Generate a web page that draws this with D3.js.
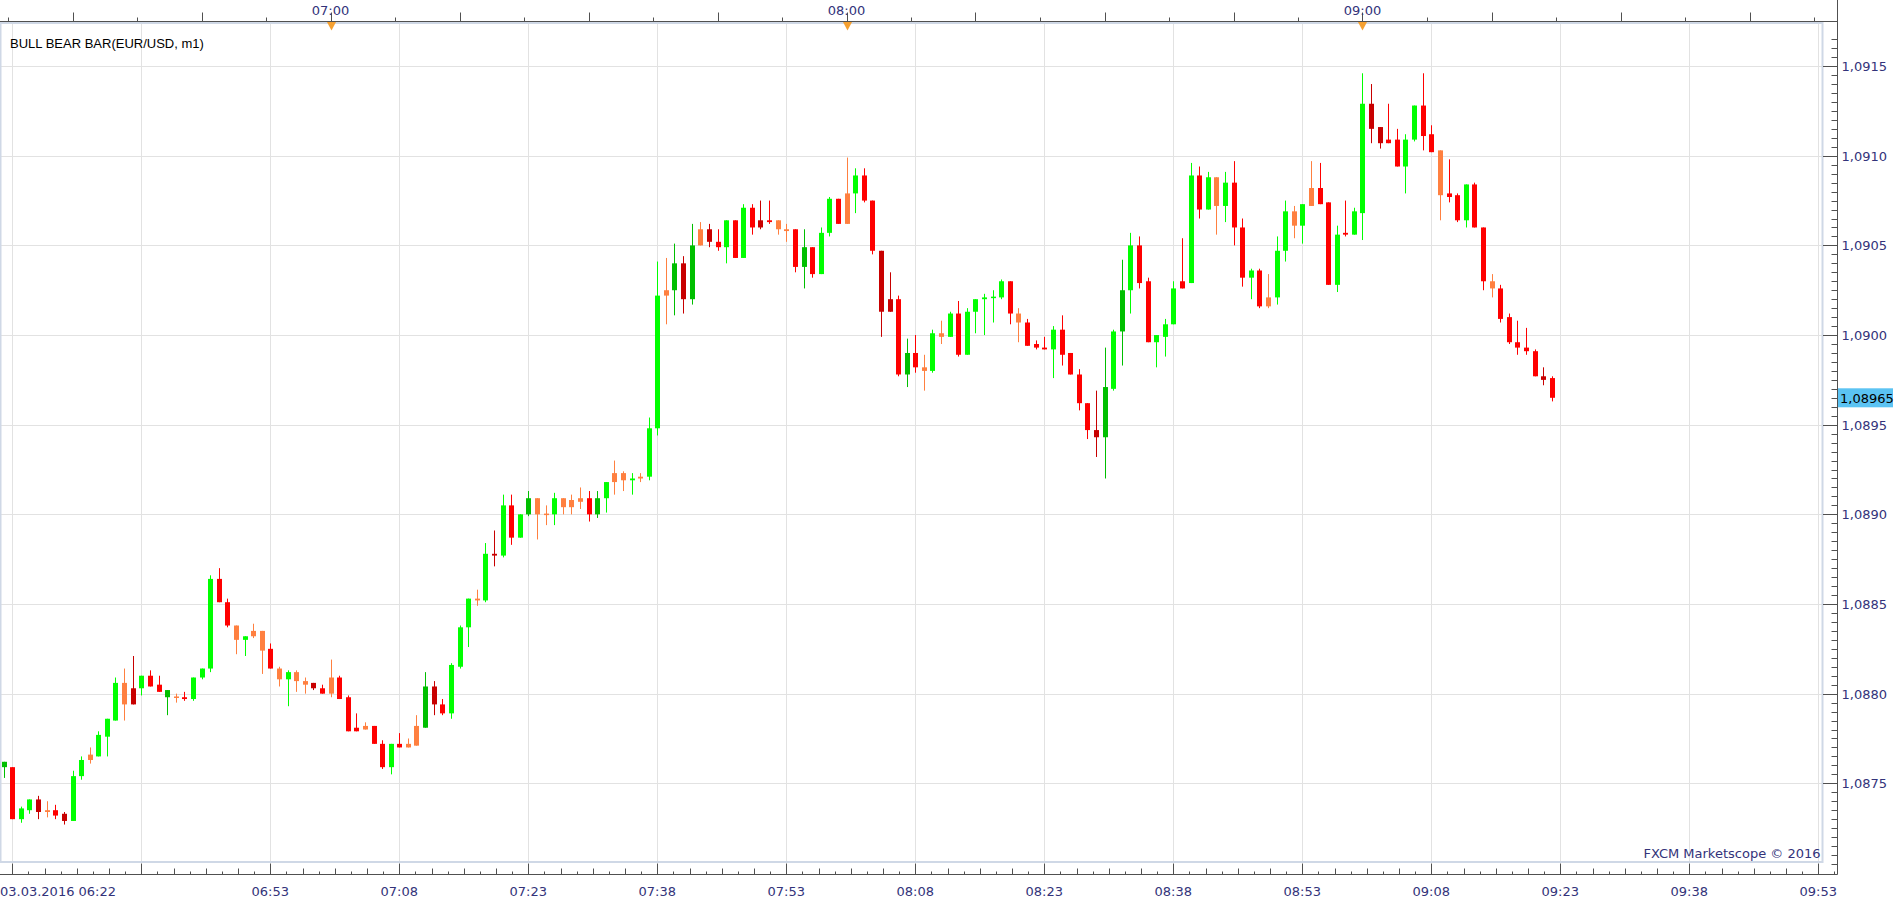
<!DOCTYPE html>
<html><head><meta charset="utf-8">
<script src="https://cdn.jsdelivr.net/npm/d3@7"></script>
<style>
html,body{margin:0;padding:0;background:#fff;overflow:hidden;}
svg{display:block;}
</style></head><body>
<svg id="chart" width="1903" height="905"></svg>
<script>
// ---------- DATA ----------
const chartTitle = "BULL BEAR BAR(EUR/USD, m1)";
const firstLabel = "03.03.2016 06:22";
const firstTime = "06:22";
const lastTime = "09:53";
const watermark = "FXCM Marketscope \u00A9 2016";

const opens = [1.08759,1.08759,1.08730,1.08735,1.08741,1.08734,1.08735,1.08733,1.08729,1.08754,
1.08763,1.08765,1.08776,1.08785,1.08806,1.08803,1.08803,1.08810,1.08805,1.08798,
1.08798,1.08798,1.08797,1.08809,1.08814,1.08864,1.08851,1.08838,1.08830,1.08832,
1.08835,1.08825,1.08814,1.08808,1.08812,1.08807,1.08806,1.08803,1.08800,1.08809,
1.08798,1.08781,1.08780,1.08782,1.08772,1.08759,1.08772,1.08770,1.08771,1.08781,
1.08804,1.08794,1.08789,1.08815,1.08837,1.08852,1.08852,1.08878,1.08877,1.08905,
1.08887,1.08900,1.08909,1.08900,1.08900,1.08909,1.08904,1.08907,1.08909,1.08900,
1.08909,1.08918,1.08923,1.08919,1.08920,1.08921,1.08948,1.09022,1.09025,1.09040,
1.09020,1.09050,1.09059,1.09052,1.09049,1.09064,1.09043,1.09071,1.09064,1.09064,
1.09064,1.09059,1.09059,1.09038,1.09049,1.09034,1.09057,1.09076,1.09062,1.09079,
1.09089,1.09075,1.09047,1.09020,1.09020,1.08978,1.08990,1.08980,1.08980,1.09001,
1.08999,1.09012,1.08989,1.09013,1.09020,1.09021,1.09021,1.09030,1.09012,1.09007,
1.08995,1.08993,1.08992,1.09003,1.08990,1.08978,1.08962,1.08947,1.08943,1.08970,
1.09002,1.09025,1.09050,1.09030,1.08996,1.08999,1.09006,1.09030,1.09029,1.09089,
1.09070,1.09088,1.09072,1.09085,1.09060,1.09032,1.09036,1.09016,1.09021,1.09047,
1.09069,1.09061,1.09072,1.09082,1.09074,1.09028,1.09057,1.09056,1.09068,1.09129,
1.09116,1.09109,1.09109,1.09094,1.09109,1.09128,1.09112,1.09103,1.09079,1.09078,
1.09064,1.09084,1.09060,1.09030,1.09026,1.09010,1.08996,1.08993,1.08991,1.08977,
1.08976];

const highs = [1.08762,1.08759,1.08737,1.08741,1.08743,1.08740,1.08738,1.08734,1.08757,1.08765,
1.08770,1.08779,1.08786,1.08809,1.08814,1.08821,1.08810,1.08813,1.08810,1.08802,
1.08800,1.08801,1.08809,1.08814,1.08866,1.08870,1.08853,1.08838,1.08832,1.08839,
1.08835,1.08828,1.08815,1.08813,1.08813,1.08809,1.08806,1.08805,1.08819,1.08810,
1.08799,1.08789,1.08784,1.08782,1.08774,1.08772,1.08778,1.08775,1.08788,1.08812,
1.08807,1.08797,1.08817,1.08838,1.08853,1.08858,1.08884,1.08891,1.08911,1.08911,
1.08900,1.08913,1.08909,1.08905,1.08912,1.08909,1.08911,1.08915,1.08913,1.08913,
1.08918,1.08930,1.08924,1.08923,1.08923,1.08954,1.09041,1.09043,1.09051,1.09044,
1.09062,1.09063,1.09062,1.09059,1.09064,1.09064,1.09073,1.09073,1.09075,1.09075,
1.09064,1.09062,1.09059,1.09059,1.09049,1.09060,1.09077,1.09076,1.09099,1.09093,
1.09093,1.09075,1.09047,1.09035,1.09022,1.08998,1.09000,1.08989,1.09003,1.09008,
1.09013,1.09019,1.09015,1.09020,1.09023,1.09025,1.09031,1.09030,1.09015,1.09009,
1.08997,1.08999,1.09005,1.09011,1.08990,1.08981,1.08962,1.08969,1.08993,1.09003,
1.09042,1.09057,1.09055,1.09032,1.09000,1.09009,1.09030,1.09054,1.09096,1.09094,
1.09091,1.09088,1.09091,1.09097,1.09065,1.09037,1.09037,1.09034,1.09055,1.09075,
1.09072,1.09073,1.09097,1.09096,1.09074,1.09061,1.09075,1.09071,1.09146,1.09140,
1.09116,1.09129,1.09115,1.09112,1.09128,1.09146,1.09117,1.09103,1.09098,1.09079,
1.09084,1.09085,1.09060,1.09034,1.09028,1.09012,1.09008,1.09004,1.08992,1.08982,
1.08977];

const lows = [1.08753,1.08730,1.08728,1.08733,1.08730,1.08731,1.08730,1.08727,1.08729,1.08752,
1.08761,1.08765,1.08765,1.08785,1.08785,1.08794,1.08799,1.08804,1.08801,1.08788,
1.08795,1.08796,1.08796,1.08808,1.08812,1.08851,1.08837,1.08822,1.08821,1.08831,
1.08811,1.08814,1.08804,1.08793,1.08801,1.08800,1.08802,1.08800,1.08798,1.08797,
1.08779,1.08779,1.08780,1.08772,1.08758,1.08755,1.08770,1.08770,1.08771,1.08781,
1.08788,1.08788,1.08786,1.08814,1.08826,1.08849,1.08851,1.08871,1.08876,1.08883,
1.08887,1.08899,1.08886,1.08894,1.08894,1.08900,1.08900,1.08903,1.08896,1.08898,
1.08901,1.08911,1.08913,1.08911,1.08918,1.08919,1.08944,1.09006,1.09011,1.09012,
1.09017,1.09050,1.09049,1.09047,1.09040,1.09043,1.09043,1.09056,1.09059,1.09062,
1.09056,1.09052,1.09035,1.09026,1.09032,1.09034,1.09055,1.09062,1.09062,1.09068,
1.09074,1.09045,1.08999,1.09013,1.08977,1.08971,1.08979,1.08969,1.08979,1.08995,
1.08999,1.08988,1.08989,1.09001,1.09000,1.09007,1.09020,1.09006,1.08996,1.08994,
1.08992,1.08992,1.08976,1.08983,1.08978,1.08958,1.08942,1.08932,1.08920,1.08969,
1.08983,1.09012,1.09026,1.08996,1.08982,1.08988,1.09006,1.09026,1.09029,1.09065,
1.09070,1.09056,1.09063,1.09050,1.09027,1.09020,1.09015,1.09015,1.09017,1.09041,
1.09054,1.09051,1.09072,1.09073,1.09028,1.09024,1.09055,1.09056,1.09053,1.09107,
1.09104,1.09107,1.09094,1.09079,1.09108,1.09103,1.09102,1.09064,1.09074,1.09063,
1.09060,1.09060,1.09025,1.09021,1.09007,1.08995,1.08989,1.08989,1.08977,1.08972,
1.08963];

const closes = [1.08762,1.08730,1.08736,1.08741,1.08734,1.08735,1.08732,1.08729,1.08754,1.08763,
1.08766,1.08777,1.08786,1.08806,1.08794,1.08794,1.08810,1.08804,1.08801,1.08802,
1.08798,1.08797,1.08809,1.08814,1.08864,1.08851,1.08838,1.08830,1.08832,1.08835,
1.08824,1.08814,1.08808,1.08812,1.08807,1.08805,1.08803,1.08800,1.08809,1.08797,
1.08779,1.08779,1.08782,1.08772,1.08759,1.08772,1.08770,1.08772,1.08782,1.08804,
1.08794,1.08789,1.08816,1.08837,1.08853,1.08853,1.08878,1.08877,1.08905,1.08887,
1.08900,1.08909,1.08900,1.08900,1.08909,1.08904,1.08908,1.08909,1.08900,1.08909,
1.08918,1.08923,1.08919,1.08920,1.08921,1.08948,1.09022,1.09025,1.09040,1.09020,
1.09050,1.09059,1.09052,1.09049,1.09064,1.09043,1.09071,1.09060,1.09060,1.09063,
1.09059,1.09058,1.09038,1.09049,1.09034,1.09057,1.09076,1.09062,1.09079,1.09089,
1.09075,1.09047,1.09013,1.09013,1.08978,1.08990,1.08982,1.08982,1.09001,1.08999,
1.09012,1.08989,1.09013,1.09020,1.09021,1.09021,1.09030,1.09012,1.09007,1.08994,
1.08993,1.08992,1.09003,1.08989,1.08978,1.08962,1.08947,1.08943,1.08971,1.09002,
1.09025,1.09050,1.09029,1.08996,1.09000,1.09006,1.09026,1.09026,1.09089,1.09070,
1.09088,1.09072,1.09085,1.09060,1.09032,1.09036,1.09016,1.09021,1.09047,1.09069,
1.09061,1.09073,1.09082,1.09073,1.09028,1.09056,1.09056,1.09069,1.09129,1.09115,
1.09107,1.09107,1.09094,1.09109,1.09128,1.09111,1.09102,1.09078,1.09077,1.09064,
1.09084,1.09060,1.09030,1.09026,1.09009,1.08996,1.08993,1.08991,1.08977,1.08975,
1.08965];

// bar colour class per candle: G bull strong, g bull weak, R bear strong, r bear weak, O neutral
const barClasses = ("gRGGrORrGG" + "OGGGOrGRRg" + "ORGGGRROGO" + "OROGOOrROR" + "RRORRGROOg" +
  "rRGGGOGrGR" + "GgOOGOOORg" + "GOOGOGGOgr" + "gOrRGRGRrR" + "OORgRGGROG" +
  "RRrrRgROGO" + "GRGGGGGROR" + "RRGRRRRrgG" + "gGRRGGGRGR" + "GOGRRGROGG" +
  "OGORRGRGGr" + "rRRGGRRORR" + "GRRORRRRRr" + "R").split("");
const classColors = {G:"#00ff00", g:"#00bf00", R:"#ff0000", r:"#c80000", O:"#ff8040"};

const bottomTimeLabels = ["06:53","07:08","07:23","07:38","07:53","08:08","08:23","08:38","08:53","09:08","09:23","09:38","09:53"];
const topHourLabels = ["07:00","08:00","09:00"];
const priceTicks = [1.0875,1.0880,1.0885,1.0890,1.0895,1.0900,1.0905,1.0910,1.0915];
const lastPrice = 1.08965;

// ---------- LAYOUT ----------
const plotL = 0, plotR = 1822, plotT = 23, plotB = 862;
const axisX = 1837.5, topAxisY = 21.5, botAxisY = 874.5;
const labelColor = "#33337a";
const axisColor = "#505050";
const gridColor = "#e2e2e2";
const borderColor = "#cfd8e6";

const toMin = s => { const [h,m] = s.split(":").map(Number); return h*60+m; };
const t0 = toMin(firstTime);
const idx = s => toMin(s) - t0;

const x = d3.scaleLinear().domain([0, idx(lastTime)]).range([3.7, 1818.3]);
const y = d3.scaleLinear().domain([priceTicks[0], priceTicks[priceTicks.length-1]]).range([783.3, 66.1]);

const svg = d3.select("#chart");
const fmt4 = v => d3.format(".4f")(v).replace(".", ",");
const fmt5 = v => d3.format(".5f")(v).replace(".", ",");

// grid
const gridG = svg.append("g");
gridG.selectAll("line.h").data(priceTicks).join("line")
  .attr("x1", plotL).attr("x2", plotR)
  .attr("y1", d => Math.round(y(d)) + 0.5).attr("y2", d => Math.round(y(d)) + 0.5)
  .attr("stroke", gridColor).attr("stroke-width", 1);
const quarterIdx = d3.range(idx("06:23"), idx(lastTime) + 1, 15);
gridG.selectAll("line.v").data(quarterIdx).join("line")
  .attr("x1", d => Math.round(x(d)) + 0.5).attr("x2", d => Math.round(x(d)) + 0.5)
  .attr("y1", plotT).attr("y2", plotB)
  .attr("stroke", gridColor).attr("stroke-width", 1);

// plot border
svg.append("rect").attr("x", plotL + 0.5).attr("y", plotT).attr("width", plotR - plotL).attr("height", plotB - plotT)
  .attr("fill", "none").attr("stroke", borderColor).attr("stroke-width", 2);

// candles
const candleG = svg.append("g");
const bw = 5;
opens.forEach((o, i) => {
  const cx = Math.round(x(i));
  const col = classColors[barClasses[i]];
  const bx = cx - Math.floor(bw/2);
  candleG.append("rect")
    .attr("x", bx + 2).attr("width", 1)
    .attr("y", y(highs[i])).attr("height", Math.max(1, y(lows[i]) - y(highs[i])))
    .attr("fill", col);
  const yt = y(Math.max(o, closes[i])), yb = y(Math.min(o, closes[i]));
  const h = Math.max(1.5, yb - yt);
  candleG.append("rect")
    .attr("x", bx).attr("width", bw)
    .attr("y", (yt + yb)/2 - h/2).attr("height", h)
    .attr("fill", col);
});

// top axis
const topG = svg.append("g");
topG.append("line").attr("x1", 0).attr("x2", axisX).attr("y1", topAxisY).attr("y2", topAxisY)
  .attr("stroke", axisColor).attr("stroke-width", 1);
const topTicks = d3.range(0.5, idx(lastTime) + 1, 7.5);
topG.selectAll("line.t").data(topTicks).join("line")
  .attr("x1", d => Math.round(x(d)) + 0.5).attr("x2", d => Math.round(x(d)) + 0.5)
  .attr("y1", topAxisY).attr("y2", (d, i) => topAxisY - (i % 2 === 1 ? 9 : 4))
  .attr("stroke", axisColor).attr("stroke-width", 1);
topG.selectAll("path.mk").data(topHourLabels).join("path")
  .attr("d", d => { const cx = Math.round(x(idx(d))) + 0.5; return `M${cx-4.5},${topAxisY+0.5}L${cx+4.5},${topAxisY+0.5}L${cx},${topAxisY+9}Z`; })
  .attr("fill", "#f5a030");
topG.selectAll("text").data(topHourLabels).join("text")
  .attr("x", d => x(idx(d))).attr("y", 15)
  .attr("text-anchor", "middle").attr("font-family", "DejaVu Sans").attr("font-size", 13)
  .attr("fill", labelColor).text(d => d);

// right axis
const rightG = svg.append("g");
rightG.append("line").attr("x1", axisX).attr("x2", axisX).attr("y1", 0).attr("y2", botAxisY)
  .attr("stroke", axisColor).attr("stroke-width", 1);
const minorTicks = d3.range(1.08705, 1.09170, 0.00005).filter(v => y(v) > 2 && y(v) < 872);
rightG.selectAll("line.mn").data(minorTicks).join("line")
  .attr("x1", axisX - 6).attr("x2", axisX)
  .attr("y1", d => Math.round(y(d)) + 0.5).attr("y2", d => Math.round(y(d)) + 0.5)
  .attr("stroke", axisColor).attr("stroke-width", 1);
rightG.selectAll("line.mj").data(priceTicks).join("line")
  .attr("x1", plotR + 1).attr("x2", axisX)
  .attr("y1", d => Math.round(y(d)) + 0.5).attr("y2", d => Math.round(y(d)) + 0.5)
  .attr("stroke", axisColor).attr("stroke-width", 1);
rightG.selectAll("text").data(priceTicks).join("text")
  .attr("x", 1841.5).attr("y", d => y(d) + 5)
  .attr("font-family", "DejaVu Sans").attr("font-size", 13)
  .attr("fill", labelColor).text(fmt4);
rightG.append("rect").attr("x", axisX + 0.5).attr("y", y(lastPrice) - 9.5).attr("width", 55).attr("height", 19)
  .attr("fill", "#5bc3f3");
rightG.append("text").attr("x", 1840).attr("y", y(lastPrice) + 5)
  .attr("font-family", "DejaVu Sans").attr("font-size", 13).attr("fill", "#000").text(fmt5(lastPrice));

// bottom axis
const botG = svg.append("g");
botG.append("line").attr("x1", 0).attr("x2", axisX).attr("y1", botAxisY).attr("y2", botAxisY)
  .attr("stroke", axisColor).attr("stroke-width", 1);
const botTicks = d3.range(0, 8*14 + 2).map(k => ({k, v: idx("06:23") + k*1.875})).filter(d => x(d.v) < axisX);
botG.selectAll("line.bt").data(botTicks).join("line")
  .attr("x1", d => Math.round(x(d.v)) + 0.5).attr("x2", d => Math.round(x(d.v)) + 0.5)
  .attr("y1", botAxisY).attr("y2", d => botAxisY - (d.k % 8 === 0 ? 11 : (d.k % 2 === 0 ? 6 : 3)))
  .attr("stroke", axisColor).attr("stroke-width", 1);
botG.append("text").attr("x", 0).attr("y", 896)
  .attr("font-family", "DejaVu Sans").attr("font-size", 13).attr("fill", labelColor).text(firstLabel);
botG.selectAll("text.bl").data(bottomTimeLabels).join("text")
  .attr("x", d => x(idx(d))).attr("y", 896).attr("text-anchor", "middle")
  .attr("font-family", "DejaVu Sans").attr("font-size", 13).attr("fill", labelColor).text(d => d);

// title and watermark
svg.append("text").attr("x", 10).attr("y", 48)
  .attr("font-family", "Liberation Sans, Arial, sans-serif").attr("font-size", 13).attr("fill", "#000")
  .text(chartTitle);
svg.append("text").attr("x", 1820.5).attr("y", 858).attr("text-anchor", "end")
  .attr("font-family", "DejaVu Sans").attr("font-size", 13).attr("fill", labelColor).text(watermark);
</script>
</body></html>
